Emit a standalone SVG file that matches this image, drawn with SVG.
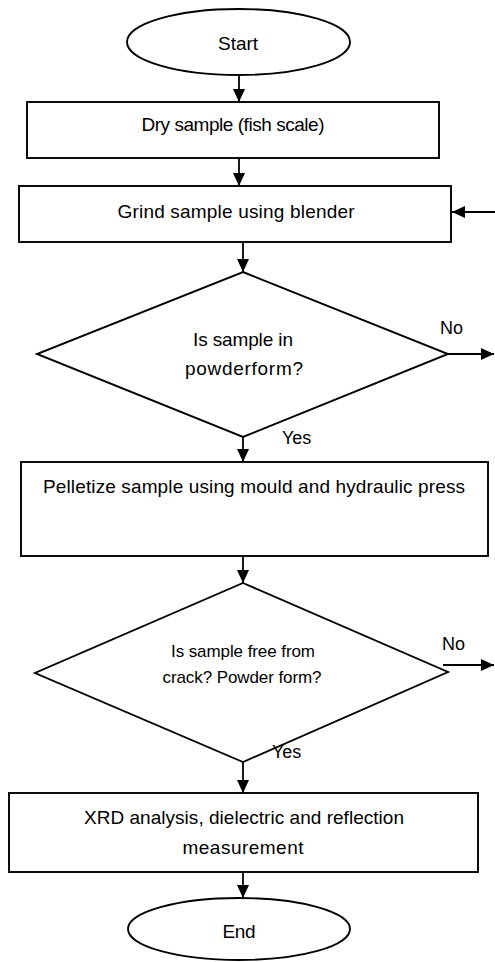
<svg xmlns="http://www.w3.org/2000/svg" width="495" height="962" viewBox="0 0 495 962">
<style>
  .shape { fill: #ffffff; stroke: #000000; stroke-width: 1.9; }
  .conn { fill: none; stroke: #000000; stroke-width: 1.8; marker-end: url(#arrow); }
  .t { font-family: "Liberation Sans", Arial, sans-serif; font-size: 19px; fill: #000000; text-anchor: middle; }
  .s { font-size: 17px; }
  .lbl { font-family: "Liberation Sans", Arial, sans-serif; font-size: 18px; fill: #000000; }
</style>
<defs>
  <marker id="arrow" markerUnits="userSpaceOnUse" markerWidth="13" markerHeight="12" refX="13" refY="6" orient="auto">
    <path d="M0,0 L13,6 L0,12 z" fill="#000000"/>
  </marker>
</defs>
<rect width="495" height="962" fill="#ffffff"/>

<g id="connectors">
  <line class="conn" x1="239" y1="75" x2="239" y2="102"/>
  <line class="conn" x1="239" y1="158" x2="239" y2="186"/>
  <line class="conn" x1="243" y1="242" x2="243" y2="272"/>
  <line class="conn" x1="448" y1="354" x2="494" y2="354"/>
  <line class="conn" x1="495" y1="212" x2="452" y2="212"/>
  <line class="conn" x1="243" y1="437" x2="243" y2="462"/>
  <line class="conn" x1="243" y1="556" x2="243" y2="583"/>
  <line class="conn" x1="443" y1="665" x2="494" y2="665"/>
  <line class="conn" x1="243" y1="762" x2="243" y2="793"/>
  <line class="conn" x1="243" y1="872" x2="243" y2="898"/>
</g>

<g id="start">
  <ellipse class="shape" cx="238.5" cy="42" rx="111.5" ry="33"/>
  <text class="t" x="238" y="50" textLength="40">Start</text>
</g>

<g id="dry">
  <rect class="shape" x="27" y="102" width="412" height="56"/>
  <text class="t" x="233" y="131" textLength="183">Dry sample (fish scale)</text>
</g>

<g id="grind">
  <rect class="shape" x="19" y="186" width="432" height="56"/>
  <text class="t" x="236" y="218" textLength="237">Grind sample using blender</text>
</g>

<g id="decision1">
  <polygon class="shape" points="243,272 448,354 243,437 37,354"/>
  <text class="t" x="243" y="346" textLength="100">Is sample in</text>
  <text class="t" x="244" y="375" textLength="118">powderform?</text>
  <text class="lbl" x="440" y="334">No</text>
  <text class="lbl" x="282" y="444">Yes</text>
</g>

<g id="pelletize">
  <rect class="shape" x="21" y="462" width="467" height="94"/>
  <text class="t" x="254" y="493" textLength="422">Pelletize sample using mould and hydraulic press</text>
</g>

<g id="decision2">
  <polygon class="shape" points="243,583 448,672 243,762 35,673"/>
  <text class="t s" x="243" y="657" textLength="144">Is sample free from</text>
  <text class="t s" x="242" y="683" textLength="159">crack? Powder form?</text>
  <text class="lbl" x="442" y="650">No</text>
  <text class="lbl" x="272" y="758">Yes</text>
</g>

<g id="xrd">
  <rect class="shape" x="9" y="793" width="469" height="79"/>
  <text class="t" x="244" y="824" textLength="320">XRD analysis, dielectric and reflection</text>
  <text class="t" x="243" y="854" textLength="121">measurement</text>
</g>

<g id="end">
  <ellipse class="shape" cx="239" cy="929" rx="111" ry="31"/>
  <text class="t" x="239" y="938" textLength="33">End</text>
</g>
</svg>
